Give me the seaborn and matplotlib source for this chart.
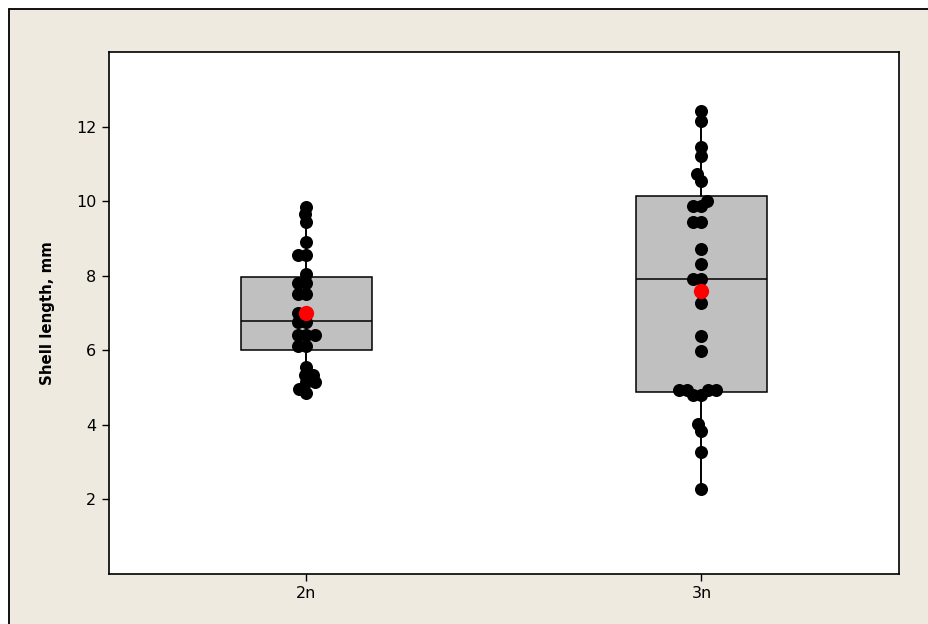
import numpy as np
import pandas as pd
import seaborn as sns
import matplotlib
matplotlib.use("Agg")
import matplotlib.pyplot as plt
from matplotlib.patches import Rectangle
from matplotlib.lines import Line2D

# Shell length (mm) of individual oysters by ploidy
groups = ["2n", "3n"]
length_2n = [9.85, 9.65, 9.45, 8.9, 8.55, 8.55, 8.05, 7.8, 7.8, 7.5, 7.5,
             7.0, 7.0, 6.75, 6.75, 6.4, 6.4, 6.4, 6.12, 6.12, 5.55, 5.35,
             5.35, 5.15, 5.15, 4.95, 4.85]
length_3n = [12.41, 12.14, 11.45, 11.2, 10.72, 10.55, 10.0, 9.86, 9.86,
             9.44, 9.44, 8.72, 8.32, 7.91, 7.91, 7.26, 6.39, 5.99, 4.93,
             4.93, 4.93, 4.93, 4.8, 4.8, 4.03, 3.84, 3.27, 2.29]

# Quartiles as reported by the box summary
q1 = [6.0, 4.88]
medians = [6.79, 7.92]
q3 = [7.97, 10.15]

yticks = [2, 4, 6, 8, 10, 12]

df = pd.DataFrame({
    "ploidy": ["2n"] * len(length_2n) + ["3n"] * len(length_3n),
    "length": length_2n + length_3n,
})

sns.set_theme(style="ticks")
plt.rcParams["font.family"] = ["DejaVu Sans"]

W, H = 929, 624
fig = plt.figure(figsize=(W / 100, H / 100), dpi=100, facecolor="white")

# beige panel running off the right and bottom edges, outlined left and top
x0, y0 = 9.5 / W, 1 - 8.5 / H
fig.add_artist(Rectangle((x0, -0.05), 1.1, y0 + 0.05, transform=fig.transFigure,
                         facecolor="#EEEAE0", edgecolor="none", zorder=-10))
fig.add_artist(Line2D([x0, x0], [-0.05, y0], transform=fig.transFigure,
                      color="black", linewidth=1.3, zorder=-9))
fig.add_artist(Line2D([x0, 1.1], [y0, y0], transform=fig.transFigure,
                      color="black", linewidth=1.3, zorder=-9))

ax = fig.add_axes([109 / W, 1 - 574 / H, (899 - 109) / W, (574 - 52) / H])
ax.set_facecolor("white")

# box summaries, whiskers running to the extreme observations
stats = []
for i, vals in enumerate([length_2n, length_3n]):
    stats.append(dict(label=groups[i], q1=q1[i], med=medians[i], q3=q3[i],
                      whislo=min(vals), whishi=max(vals), fliers=[]))
ax.bxp(stats, positions=[0, 1], widths=0.334, showcaps=False, patch_artist=True,
       boxprops=dict(facecolor="#C0C0C0", edgecolor="black", linewidth=1.1),
       medianprops=dict(color="black", linewidth=1.1),
       whiskerprops=dict(color="black", linewidth=1.4),
       zorder=0.5, manage_ticks=False)

# individual values: laid out as a tight swarm, then drawn with larger dots
sns.swarmplot(data=df, x="ploidy", y="length", order=groups, color="black",
              size=5.5, linewidth=0, ax=ax, zorder=3)
ax.set_xlim(-0.5, 1.5)
ax.set_ylim(0, 14)
fig.canvas.draw()
for coll in ax.collections:
    if "draw" in coll.__dict__:
        del coll.draw
    coll.set_sizes([88])

# group means in red
sns.pointplot(data=df, x="ploidy", y="length", order=groups, estimator="mean",
              errorbar=None, color="red", linestyle="none", markers="o",
              markersize=11, markeredgewidth=0, ax=ax, zorder=5)

ax.set_xlim(-0.5, 1.5)
ax.set_ylim(0, 14)
ax.set_yticks(yticks)
ax.set_yticklabels([str(t) for t in yticks])
ax.set_xticks([0, 1])
ax.set_xticklabels(groups)
ax.tick_params(axis="both", direction="out", length=5, width=1, colors="black",
               labelsize=11.5, pad=4)
for side in ["left", "right", "top", "bottom"]:
    ax.spines[side].set_visible(True)
    ax.spines[side].set_color("black")
    ax.spines[side].set_linewidth(1.2)

ax.set_xlabel("")
ax.set_ylabel("Shell length, mm", fontsize=10.8, fontweight="bold", color="black")
ax.yaxis.set_label_coords((55 - 109) / (899 - 109), 0.5)

fig.savefig("out.png", dpi=100, facecolor=fig.get_facecolor())
